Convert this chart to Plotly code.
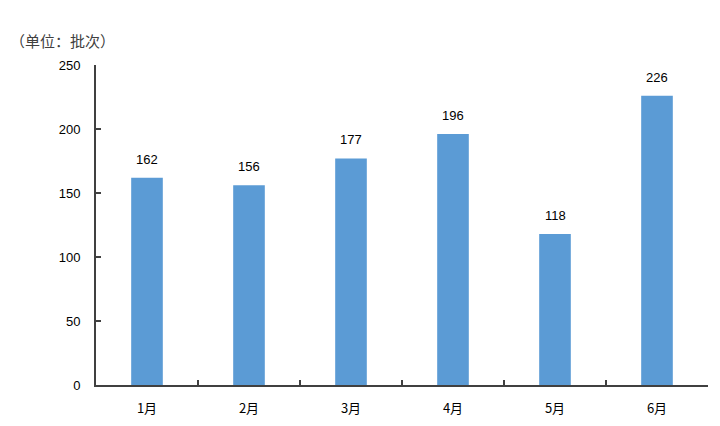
import plotly.graph_objects as go

months = ["1月", "2月", "3月", "4月", "5月", "6月"]
values = [162, 156, 177, 196, 118, 226]
y_ticks = [0, 50, 100, 150, 200, 250]

font_family = "Liberation Sans, Noto Sans CJK SC, sans-serif"

fig = go.Figure()
fig.add_trace(go.Bar(
    x=months, y=values,
    marker=dict(color="#5B9BD5", line=dict(width=0)),
    width=0.31,
))

for m, v in zip(months, values):
    fig.add_annotation(x=m, y=v, text=str(v), showarrow=False,
                       yanchor="bottom", yshift=9,
                       font=dict(size=13, color="#000000", family=font_family))

fig.add_annotation(xref="paper", yref="paper", x=-0.1438, y=1.078,
                   xanchor="left", yanchor="middle", text="（单位：批次）",
                   showarrow=False,
                   font=dict(size=15, color="#404040", family="Noto Sans CJK SC"))

fig.update_layout(
    width=720, height=426,
    margin=dict(l=88, r=20, t=57, b=49),
    paper_bgcolor="white", plot_bgcolor="white",
    showlegend=False,
    font=dict(family=font_family, size=13, color="#000000"),
    bargap=0.69,
)
fig.update_xaxes(
    type="category", showline=True, linecolor="#404040", linewidth=2,
    ticks="inside", tickson="boundaries", ticklen=5, tickcolor="#404040", tickwidth=1.5,
    showgrid=False, tickfont=dict(size=13, family="Noto Sans CJK SC"),
    ticklabelstandoff=10,
)
fig.update_yaxes(
    range=[0, 250], tickvals=y_ticks, showline=True, linecolor="#404040", linewidth=2,
    ticks="inside", ticklen=5, tickcolor="#404040", tickwidth=1.5,
    showgrid=False, zeroline=False, ticklabelstandoff=11,
)

fig.write_html("out.html")
